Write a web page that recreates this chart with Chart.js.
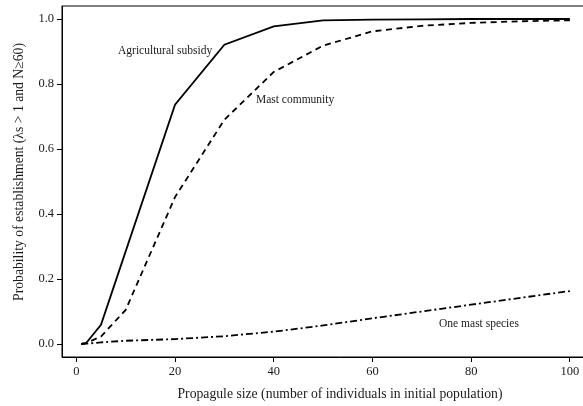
<!DOCTYPE html>
<html>
<head>
<meta charset="utf-8">
<script src="https://cdn.jsdelivr.net/npm/chart.js@4"></script>
<style>
  html, body { margin: 0; padding: 0; background: #fff; overflow: hidden; }
  #wrap { width: 583px; height: 406px; overflow: hidden; }
</style>
</head>
<body>
<div id="wrap"><canvas id="chart" width="618" height="406"></canvas></div>
<script>
// propagule sizes (x) and probabilities
const propaguleSizes = [1, 2, 5, 10, 20, 30, 40, 50, 60, 70, 80, 90, 100];
const agriculturalSubsidy = [0, 0.003, 0.059, 0.285, 0.736, 0.921, 0.977, 0.996, 0.998, 0.999, 1.0, 1.0, 1.0];
const mastCommunity = [0, 0.003, 0.023, 0.105, 0.452, 0.69, 0.837, 0.918, 0.962, 0.979, 0.988, 0.993, 0.996];
const oneMastSpecies = [0, 0.001, 0.005, 0.01, 0.015, 0.024, 0.038, 0.057, 0.079, 0.1, 0.121, 0.142, 0.163];

const xTicks = [0, 20, 40, 60, 80, 100];
const yTicks = [0, 0.2, 0.4, 0.6, 0.8, 1.0];

// curve labels, placed at data coordinates (left edge, middle)
const curveLabels = [
    { text: "Agricultural subsidy", x: 8.45, y: 0.903 },
    { text: "Mast community", x: 36.4, y: 0.752 },
    { text: "One mast species", x: 73.5, y: 0.062 }
];

const yTitle = "Probability of establishment (\u03bbs > 1 and N\u226560)";
const serif = "'Liberation Serif', 'Times New Roman', serif";

function toPoints(values) {
    return propaguleSizes.map((x, i) => ({ x: x, y: values[i] }));
}

const boxAndLabels = {
    id: "boxAndLabels",
    afterDatasetsDraw(chart) {
        const ctx = chart.ctx;
        const area = chart.chartArea;
        ctx.save();
        ctx.strokeStyle = "#000";
        ctx.lineWidth = 1;
        ctx.strokeRect(area.left, area.top, area.right - area.left, area.bottom - area.top);

        ctx.fillStyle = "#1a1a1a";
        ctx.font = "11.5px " + serif;
        ctx.textAlign = "left";
        ctx.textBaseline = "middle";
        curveLabels.forEach(l => {
            ctx.fillText(l.text, chart.scales.x.getPixelForValue(l.x), chart.scales.y.getPixelForValue(l.y));
        });

        // y axis title, sits a little above the plot centre like the original
        ctx.font = "13.7px " + serif;
        ctx.textAlign = "center";
        ctx.translate(19, 172);
        ctx.rotate(-Math.PI / 2);
        ctx.fillText(yTitle, 0, 0);
        ctx.restore();
    }
};

const line = (label, values, dash) => ({
    label: label,
    data: toPoints(values),
    borderColor: "#000",
    borderWidth: 1.8,
    borderDash: dash,
    pointRadius: 0,
    tension: 0,
    fill: false
});

new Chart(document.getElementById("chart"), {
    type: "line",
    data: {
        datasets: [
            line("Agricultural subsidy", agriculturalSubsidy, []),
            line("Mast community", mastCommunity, [6, 4.5]),
            line("One mast species", oneMastSpecies, [7, 3, 2, 3])
        ]
    },
    options: {
        responsive: false,
        animation: false,
        layout: { padding: { top: 6, right: 0, bottom: 0, left: 0 } },
        plugins: { legend: { display: false }, tooltip: { enabled: false } },
        scales: {
            x: {
                type: "linear",
                min: -2.9,
                max: 109.76,
                afterFit(scale) { scale.height = 49; scale.paddingLeft = 0; scale.paddingRight = 0; },
                afterBuildTicks(scale) { scale.ticks = xTicks.map(v => ({ value: v })); },
                grid: { drawOnChartArea: false, drawTicks: true, tickLength: 5, tickColor: "#000" },
                border: { display: true, color: "#000", width: 1 },
                ticks: { color: "#1a1a1a", padding: 2, maxRotation: 0, font: { family: serif, size: 12.5 } },
                title: {
                    display: true,
                    text: "Propagule size (number of individuals in initial population)",
                    color: "#1a1a1a",
                    font: { family: serif, size: 13.7 },
                    padding: { top: 0, bottom: 3 }
                }
            },
            y: {
                type: "linear",
                min: -0.04,
                max: 1.04,
                afterFit(scale) { scale.width = 62; scale.paddingTop = 0; scale.paddingBottom = 0; },
                afterBuildTicks(scale) { scale.ticks = yTicks.map(v => ({ value: v })); },
                grid: { drawOnChartArea: false, drawTicks: true, tickLength: 5, tickColor: "#000" },
                border: { display: true, color: "#000", width: 1 },
                ticks: {
                    color: "#1a1a1a",
                    padding: 3,
                    font: { family: serif, size: 12.5 },
                    callback: v => v.toFixed(1)
                },
                title: { display: false }
            }
        }
    },
    plugins: [boxAndLabels]
});
</script>
</body>
</html>
